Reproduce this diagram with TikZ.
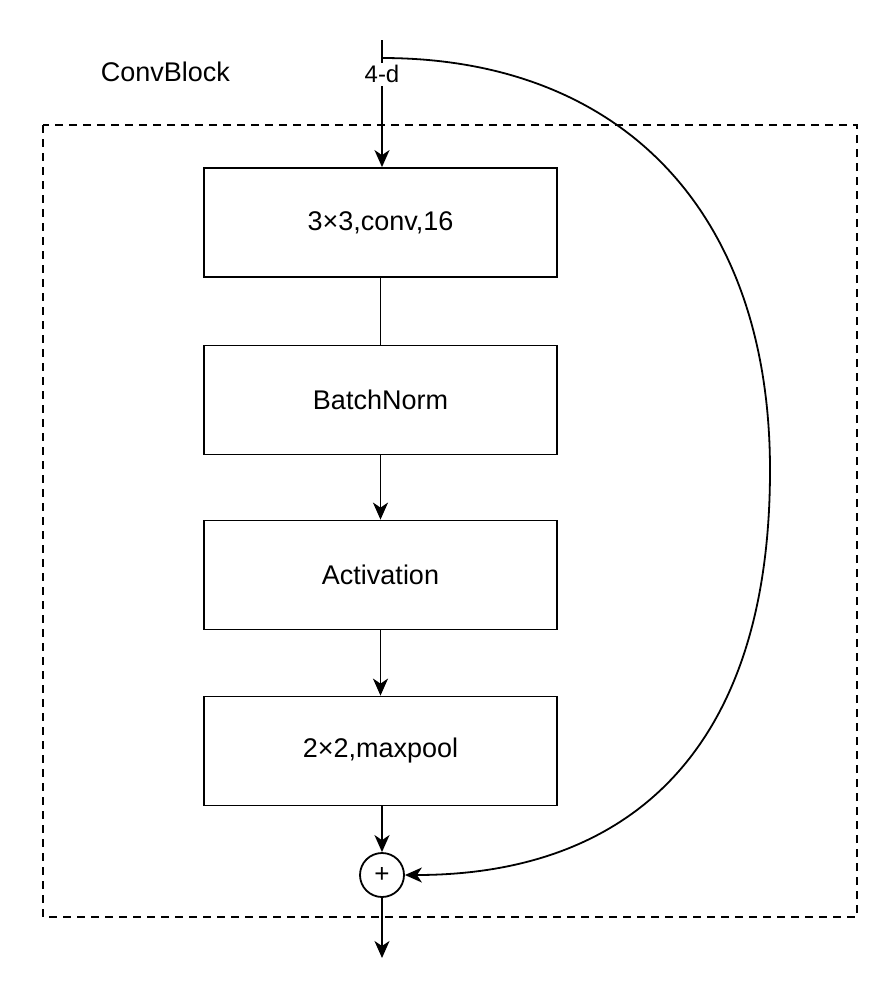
\documentclass[tikz,border=0pt]{standalone}
\usepackage{fontspec}
\setmainfont{Liberation Sans}
\usetikzlibrary{arrows.meta}

\begin{document}
\begin{tikzpicture}[x=1pt,y=-1pt,line width=1.8pt,
    blk/.style={draw,minimum width=353pt,minimum height=109pt,font=\fontsize{27}{31}\selectfont},
    arr/.style={-{Stealth[length=17pt,width=15pt,inset=5pt]}}]
        \useasboundingbox (0,0) rectangle (894,986);

        % Рамка блока
        \draw[dashed,line width=1.5pt,dash pattern=on 8pt off 6pt] (43,125) rectangle (857,917);
        \node[anchor=west,inner sep=0pt,font=\fontsize{27}{31}\selectfont] (title) at (100,72) {ConvBlock};

        \node[blk] (conv) at (380.5,222.5) {3×3,conv,16};
        \node[blk] (bn) at (380.5,400) {BatchNorm};
        \node[blk] (act) at (380.5,575) {Activation};
        \node[blk] (pool) at (380.5,751) {2×2,maxpool};

        \node[draw,circle,minimum size=44pt,inner sep=0pt,font=\fontsize{26}{30}\selectfont] (add) at (382,875) {+};

        % Вход и выход
        \coordinate (in) at (382,40);
        \coordinate (split) at (382,58);
        \coordinate (out) at (382,958);

        % Линии
        \draw[arr] (in) -- node[pos=0.27,fill=white,inner sep=3pt,font=\fontsize{24}{28}\selectfont] (dim) {4-d} (conv.north -| in);
        \draw (conv) -- (bn);
        \draw[arr] (bn) -- (act);
        \draw[arr] (act) -- (pool);
        \draw[arr] (pool.south -| add) -- (add);
        \draw[arr] (add) -- (out);

        % Обход
        \draw[arr] (split) .. controls (620,58) and (770,210) .. (770,470)
            .. controls (770,760) and (620,875) .. (add.east);
    \end{tikzpicture}
\end{document}
